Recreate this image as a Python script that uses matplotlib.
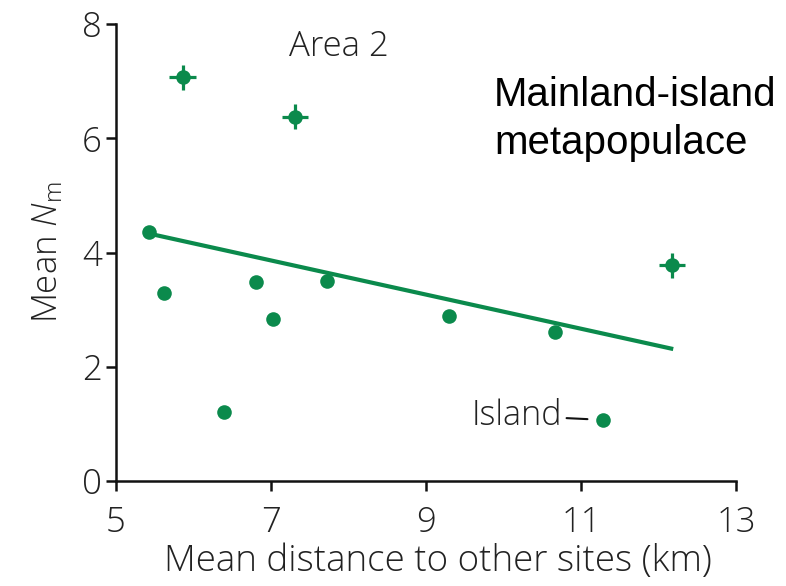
import matplotlib
matplotlib.use("Agg")
import matplotlib.pyplot as plt
import numpy as np

# Data
x_plain = [5.43, 5.62, 6.39, 6.80, 7.02, 7.72, 9.30, 10.67, 11.28]
y_plain = [4.36, 3.29, 1.21, 3.49, 2.83, 3.50, 2.88, 2.61, 1.07]
x_err_pts = [5.86, 7.31, 12.17]
y_err_pts = [7.07, 6.38, 3.78]
xerr_vals = [0.17, 0.17, 0.17]
yerr_vals = [0.22, 0.22, 0.22]
line_x = [5.43, 12.19]
line_y = [4.33, 2.31]
xticks = [5, 7, 9, 11, 13]
yticks = [0, 2, 4, 6, 8]
island_x, island_y = 11.28, 1.07

green = '#0b8a4c'
font = 'Open Sans'
plt.rcParams['font.family'] = [font, 'DejaVu Sans']
plt.rcParams['font.weight'] = 'light'
plt.rcParams['axes.labelweight'] = 'light'
plt.rcParams['mathtext.fontset'] = 'custom'
plt.rcParams['mathtext.rm'] = font + ':light'
plt.rcParams['mathtext.it'] = font + ':italic:light'

fig = plt.figure(figsize=(7.86, 5.86), dpi=100)
ax = fig.add_axes([116/786, 1 - 481/586, 620/786, 457/586])

ax.plot(line_x, line_y, color=green, lw=3, solid_capstyle='butt', zorder=2)
ax.plot(x_plain, y_plain, 'o', color=green, ms=10.5, mec='none', zorder=3)
ax.errorbar(x_err_pts, y_err_pts, xerr=xerr_vals, yerr=yerr_vals, fmt='o',
            color=green, ms=10.5, mec='none', elinewidth=2.3, capsize=0, zorder=3)

ax.set_xlim(5, 13)
ax.set_ylim(0, 8)
ax.set_xticks(xticks)
ax.set_yticks(yticks)
ax.tick_params(direction='out', length=7, width=1.8, labelsize=25, color='#111111',
               labelcolor='#222222')
ax.tick_params(axis='x', pad=11)
ax.tick_params(axis='y', pad=3)
for s in ['top', 'right']:
    ax.spines[s].set_visible(False)
for s in ['left', 'bottom']:
    ax.spines[s].set_linewidth(1.8)
    ax.spines[s].set_color('#111111')

ax.set_xlabel('Mean distance to other sites (km)', fontsize=26.5, labelpad=4, color='#222222')
ax.xaxis.set_label_coords((438 - 116) / 620, -0.135)
ax.set_ylabel('Mean $\\mathit{N}_{\\mathrm{m}}$', fontsize=25, labelpad=12, color='#222222')

ax.text(7.88, 7.6, 'Area 2', fontsize=25, ha='center', va='center', color='#222222')
fig.text(494/786, 1 - 119/586, 'Mainland-island\nmetapopulace', fontsize=29,
         family=['Liberation Sans'], weight='normal', ha='left', va='center', linespacing=1.3)

ax.annotate('Island', xy=(island_x, island_y), xytext=(-29, 3), textcoords='offset points',
            fontsize=24.5, ha='right', va='center', color='#222222',
            arrowprops=dict(arrowstyle='-', color='#111111', lw=1.5, shrinkA=1, shrinkB=11))

fig.savefig('out.png', dpi=100)
